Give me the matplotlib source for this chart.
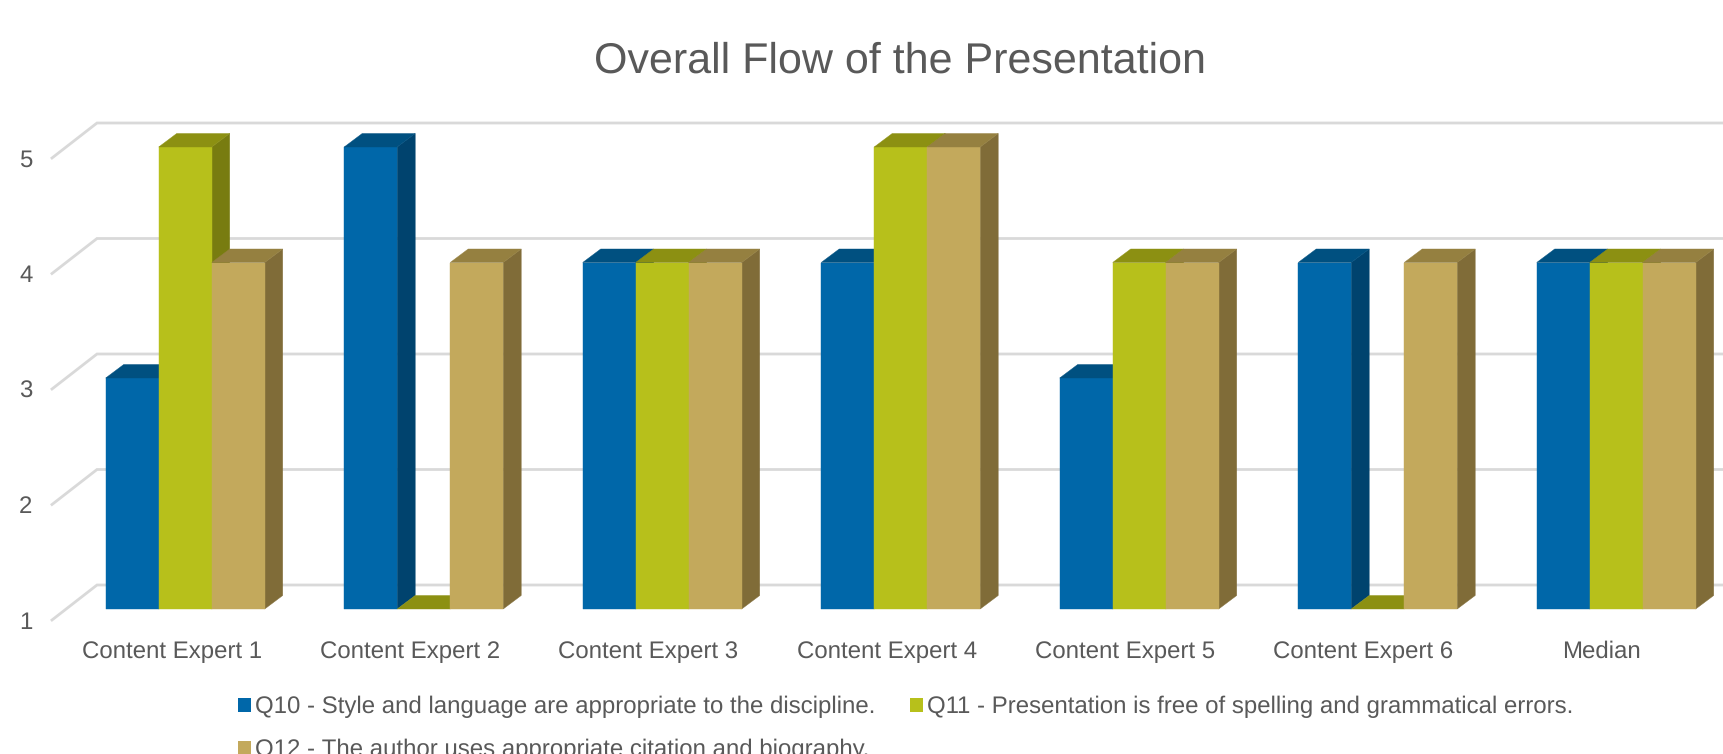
#!/usr/bin/env python3
import matplotlib
matplotlib.use('Agg')
import matplotlib.pyplot as plt
from matplotlib.patches import Patch, Polygon

categories = ['Content Expert 1', 'Content Expert 2', 'Content Expert 3', 'Content Expert 4',
              'Content Expert 5', 'Content Expert 6', 'Median']
q10 = [3, 5, 4, 4, 3, 4, 4]
q11 = [5, 1, 4, 5, 4, 1, 4]
q12 = [4, 4, 4, 5, 4, 4, 4]
y_ticks = [1, 2, 3, 4, 5]
title = 'Overall Flow of the Presentation'
q10_label = 'Q10 - Style and language are appropriate to the discipline.'
q11_label = 'Q11 - Presentation is free of spelling and grammatical errors.'
q12_label = 'Q12 - The author uses appropriate citation and biography.'

W, H = 1724, 754
# pixel geometry of the fake 3D chart
LEFT, BOTTOM, TOP = 52, 620, 158
X0, X_STEP = 185.2, 238.5
UNIT_Y = (BOTTOM - TOP) / 4
BAR_W = 53 / X_STEP
BAR_LIFT = 11 / UNIT_Y            # bars stand a bit inside the floor
DEPTH_X, DEPTH_Y = 18 / X_STEP, 13.5 / UNIT_Y
WALL_X, WALL_Y = 45 / X_STEP, 35 / UNIT_Y

TEXT = '#595959'
GRID = '#D9D9D9'
SERIES = [
    (q10, '#0067A9', '#00436E', '#005080'),
    (q11, '#B7C01B', '#787C10', '#8C9012'),
    (q12, '#C3A95C', '#806C38', '#958040'),
]

plt.rcParams['font.family'] = ['Liberation Sans', 'DejaVu Sans']
plt.rcParams['text.hinting'] = 'none'
plt.rcParams['text.hinting_factor'] = 1

fig = plt.figure(figsize=(W / 100, H / 100), dpi=100)
ax = fig.add_axes([LEFT / W, (H - BOTTOM) / H, (W - LEFT) / W, (BOTTOM - TOP) / H])
ax.set_xlim((LEFT - X0) / X_STEP, (W - X0) / X_STEP)
ax.set_ylim(1, 5)
for s in ax.spines.values():
    s.set_visible(False)


def face(points, color):
    ax.add_patch(Polygon(points, fc=color, ec=color, lw=0.3, clip_on=False, zorder=3))


def add_bar(x, v, front, side, top):
    base = 1 + BAR_LIFT
    h = v + BAR_LIFT
    if v > 1:
        face([(x + BAR_W, base), (x + BAR_W + DEPTH_X, base + DEPTH_Y),
              (x + BAR_W + DEPTH_X, h + DEPTH_Y), (x + BAR_W, h)], side)
        face([(x, base), (x + BAR_W, base), (x + BAR_W, h), (x, h)], front)
    face([(x, h), (x + BAR_W, h), (x + BAR_W + DEPTH_X, h + DEPTH_Y),
          (x + DEPTH_X, h + DEPTH_Y)], top)


# gridlines: diagonal on the side wall, then along the back wall
x_left = ax.get_xlim()[0]
x_right = ax.get_xlim()[1]
for v in y_ticks:
    ax.plot([x_left, x_left + WALL_X, x_right], [v, v + WALL_Y, v + WALL_Y],
            color=GRID, lw=2, clip_on=False, zorder=1, solid_joinstyle='miter')

for i in range(len(categories)):
    for j, (vals, front, side, top) in enumerate(SERIES):
        add_bar(i - 1.5 * BAR_W + j * BAR_W, vals[i], front, side, top)

ax.set_yticks(y_ticks)
ax.set_yticklabels([str(v) for v in y_ticks])
ax.set_xticks([(172 + 238.2 * i - X0) / X_STEP for i in range(len(categories))])
ax.set_xticklabels(categories)
ax.tick_params(axis='both', length=0, labelsize=17, labelcolor=TEXT)
ax.tick_params(axis='y', pad=14)
ax.tick_params(axis='x', pad=15)

fig.text(900 / W, 1 - 61 / H, title, ha='center', va='center', fontsize=30.7, color=TEXT)

handles = [Patch(fc=SERIES[0][1], label=q10_label),
           Patch(fc=SERIES[2][1], label=q12_label),
           Patch(fc=SERIES[1][1], label=q11_label)]
fig.legend(handles=handles, ncol=2, loc='upper left', bbox_to_anchor=(238 / W, 1 - 696 / H),
           frameon=False, fontsize=17.3, labelcolor=TEXT, borderpad=0, borderaxespad=0,
           handlelength=0.55, handleheight=0.55, handletextpad=0.16, labelspacing=0.86,
           columnspacing=1.42)

fig.savefig('out.png', dpi=100)
